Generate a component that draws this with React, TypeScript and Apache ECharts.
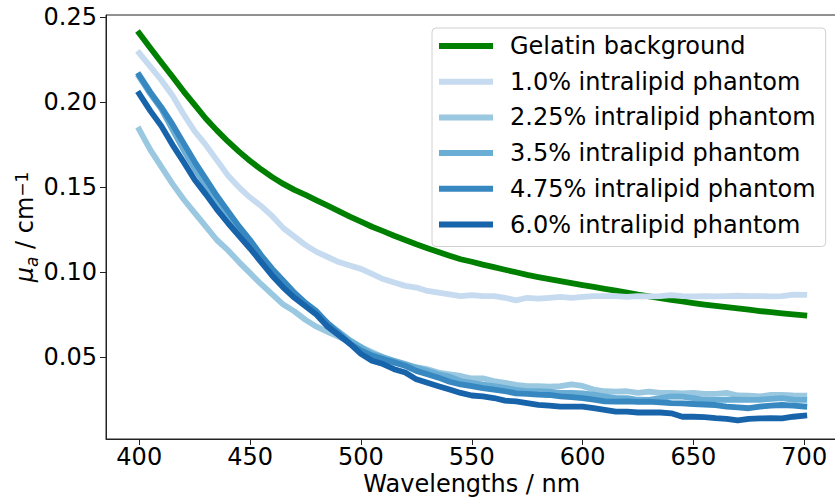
import React, { useEffect, useRef } from "react";
import * as echarts from "echarts";

const wavelengths = [
  400, 405, 410, 415, 420, 425, 430, 435, 440, 445, 450, 455, 460, 465, 470, 475, 480, 485, 490, 495,
  500, 505, 510, 515, 520, 525, 530, 535, 540, 545, 550, 555, 560, 565, 570, 575, 580, 585, 590, 595,
  600, 605, 610, 615, 620, 625, 630, 635, 640, 645, 650, 655, 660, 665, 670, 675, 680, 685, 690, 695, 700,
];

const gelatin = [
  0.2406, 0.232, 0.2235, 0.215, 0.2065, 0.1985, 0.1905, 0.1835, 0.177, 0.171, 0.1655, 0.1605, 0.156, 0.152, 0.1485, 0.1455, 0.1423, 0.1392, 0.136, 0.1328,
  0.1298, 0.1268, 0.1242, 0.1215, 0.119, 0.1165, 0.1142, 0.112, 0.1097, 0.1077, 0.1062, 0.1045, 0.103, 0.1015, 0.1, 0.0985, 0.0972, 0.096, 0.0948, 0.0936,
  0.0925, 0.0914, 0.0903, 0.0892, 0.088, 0.0868, 0.0858, 0.0848, 0.0838, 0.0829, 0.0819, 0.081, 0.0802, 0.0795, 0.0788, 0.078, 0.0772, 0.0765, 0.0758, 0.0752, 0.0746,
];

const lipid1_0 = [
  0.229, 0.221, 0.213, 0.204, 0.193, 0.183, 0.175, 0.166, 0.157, 0.150, 0.144, 0.139, 0.133, 0.126, 0.121, 0.116, 0.112, 0.109, 0.106, 0.104,
  0.102, 0.099, 0.096, 0.094, 0.092, 0.091, 0.089, 0.088, 0.087, 0.086, 0.0865, 0.086, 0.086, 0.085, 0.0835, 0.085, 0.0845, 0.085, 0.0855, 0.085,
  0.0855, 0.086, 0.086, 0.086, 0.0855, 0.086, 0.0858, 0.086, 0.0865, 0.086, 0.0858, 0.086, 0.0858, 0.086, 0.0862, 0.086, 0.086, 0.0858, 0.086, 0.0868, 0.0867,
];

const lipid2_25 = [
  0.184, 0.172, 0.162, 0.152, 0.143, 0.135, 0.127, 0.119, 0.113, 0.106, 0.0995, 0.093, 0.087, 0.081, 0.077, 0.072, 0.068, 0.065, 0.062, 0.059,
  0.056, 0.053, 0.05, 0.047, 0.045, 0.044, 0.043, 0.041, 0.04, 0.039, 0.0375, 0.0376, 0.036, 0.035, 0.0337, 0.033, 0.033, 0.0327, 0.033, 0.034,
  0.0331, 0.031, 0.03, 0.0298, 0.03, 0.029, 0.0298, 0.029, 0.029, 0.0288, 0.029, 0.0285, 0.0284, 0.029, 0.0275, 0.0274, 0.027, 0.0278, 0.0278, 0.0275, 0.0274,
];

const lipid3_5 = [
  0.215, 0.205, 0.196, 0.184, 0.172, 0.161, 0.151, 0.141, 0.1325, 0.124, 0.1165, 0.108, 0.1, 0.093, 0.0865, 0.081, 0.076, 0.07, 0.065, 0.06,
  0.056, 0.052, 0.05, 0.048, 0.046, 0.044, 0.042, 0.04, 0.0386, 0.036, 0.035, 0.0339, 0.033, 0.032, 0.0308, 0.03, 0.03, 0.0298, 0.029, 0.029,
  0.0288, 0.028, 0.027, 0.0259, 0.026, 0.025, 0.0249, 0.026, 0.027, 0.0268, 0.026, 0.025, 0.0249, 0.025, 0.025, 0.0249, 0.025, 0.0255, 0.0259, 0.025, 0.0249,
];

const lipid4_75 = [
  0.216, 0.206, 0.197, 0.187, 0.176, 0.165, 0.155, 0.145, 0.136, 0.127, 0.119, 0.11, 0.102, 0.095, 0.088, 0.082, 0.077, 0.07, 0.064, 0.058,
  0.054, 0.051, 0.049, 0.047, 0.045, 0.042, 0.04, 0.038, 0.0356, 0.034, 0.033, 0.0318, 0.031, 0.03, 0.0288, 0.0285, 0.028, 0.0278, 0.027, 0.0265,
  0.0259, 0.025, 0.024, 0.0239, 0.024, 0.0238, 0.0239, 0.0235, 0.023, 0.0229, 0.0225, 0.0222, 0.0219, 0.021, 0.0205, 0.02, 0.021, 0.0215, 0.0219, 0.0215, 0.021,
];

const lipid6_0 = [
  0.205, 0.195, 0.186, 0.175, 0.165, 0.1545, 0.146, 0.137, 0.129, 0.1215, 0.114, 0.106, 0.098, 0.091, 0.085, 0.08, 0.075, 0.068, 0.063, 0.058,
  0.052, 0.048, 0.046, 0.043, 0.041, 0.037, 0.035, 0.033, 0.031, 0.029, 0.0275, 0.027, 0.026, 0.0245, 0.024, 0.023, 0.022, 0.0215, 0.021, 0.021,
  0.021, 0.02, 0.019, 0.018, 0.018, 0.0175, 0.0175, 0.0175, 0.017, 0.015, 0.015, 0.0148, 0.0142, 0.0138, 0.0128, 0.0138, 0.014, 0.0141, 0.014, 0.015, 0.0156,
];

const seriesNames = [
  "Gelatin background",
  "1.0% intralipid phantom",
  "2.25% intralipid phantom",
  "3.5% intralipid phantom",
  "4.75% intralipid phantom",
  "6.0% intralipid phantom",
];
const seriesValues = [gelatin, lipid1_0, lipid2_25, lipid3_5, lipid4_75, lipid6_0];
const seriesColors = ["#008000", "#c6dbef", "#9ac8e0", "#6aaed6", "#3787c0", "#1764ab"];

const xTicks = [400, 450, 500, 550, 600, 650, 700];
const yTicks = [0.05, 0.1, 0.15, 0.2, 0.25];

const FONT = "DejaVu Sans";

export default function App() {
  const ref = useRef<HTMLDivElement>(null);
  useEffect(() => {
    if (!ref.current) return;
    const chart = echarts.init(ref.current, null, { renderer: "svg" });
    const series = seriesNames.map((name, i) => ({
      name,
      type: "line",
      data: wavelengths.map((w, j) => [w, seriesValues[i][j]]),
      showSymbol: false,
      symbol: "none",
      color: seriesColors[i],
      lineStyle: { width: 5.8, color: seriesColors[i], cap: "square", join: "round" },
      z: 2 + i,
    }));
    chart.setOption({
      animation: false,
      backgroundColor: "#ffffff",
      textStyle: { fontFamily: FONT },
      grid: {
        left: 106,
        top: 15,
        width: 731.5,
        height: 424,
        show: true,
        borderColor: "#222",
        borderWidth: 1,
        backgroundColor: "transparent",
        containLabel: false,
        outerBoundsMode: "none",
      },
      xAxis: {
        type: "value",
        min: 385,
        max: 715,
        name: "Wavelengths / nm",
        nameLocation: "middle",
        nameGap: 33,
        nameMoveOverlap: false,
        nameTextStyle: { fontSize: 24, color: "#000", fontFamily: FONT },
        splitLine: { show: false },
        axisLine: { show: true, onZero: false, lineStyle: { color: "#222", width: 1 } },
        axisTick: { show: true, inside: false, length: 6, lineStyle: { color: "#222", width: 1 }, customValues: xTicks },
        axisLabel: { fontSize: 24, color: "#000", margin: 6, fontFamily: FONT, customValues: xTicks },
      },
      yAxis: {
        type: "value",
        min: 0.0019,
        max: 0.2514,
        name: "{mu|μ}{sub|a}{n| / cm}{sup|−1}",
        nameLocation: "middle",
        nameRotate: 90,
        nameGap: 66,
        nameMoveOverlap: false,
        nameTextStyle: {
          fontFamily: FONT,
          color: "#000",
          rich: {
            mu: { fontSize: 24, fontStyle: "italic", fontFamily: FONT, color: "#000", lineHeight: 30 },
            sub: { fontSize: 17, fontStyle: "italic", fontFamily: FONT, color: "#000", verticalAlign: "bottom", lineHeight: 30 },
            n: { fontSize: 24, fontFamily: FONT, color: "#000", lineHeight: 30 },
            sup: { fontSize: 17, fontFamily: FONT, color: "#000", verticalAlign: "top", lineHeight: 30, padding: [3, 0, 0, 0] },
          },
        },
        splitLine: { show: false },
        axisLine: { show: true, onZero: false, lineStyle: { color: "#222", width: 1 } },
        axisTick: { show: true, inside: false, length: 6, lineStyle: { color: "#222", width: 1 }, customValues: yTicks },
        axisLabel: {
          fontSize: 24,
          color: "#000",
          margin: 9,
          fontFamily: FONT,
          customValues: yTicks,
          formatter: (v: number) => v.toFixed(2),
        },
      },
      legend: {
        show: true,
        left: 432,
        top: 28,
        orient: "vertical",
        data: seriesNames.map((n) => ({ name: n, icon: "rect" })),
        itemWidth: 54,
        itemHeight: 6,
        itemGap: 11.7,
        padding: [6, 10, 10, 7],
        backgroundColor: "rgba(255,255,255,0.8)",
        borderColor: "#d0d0d0",
        borderWidth: 1,
        borderRadius: 4,
        textStyle: { fontSize: 24, color: "#000", fontFamily: FONT, lineHeight: 24, padding: [0, 0, 0, 12] },
        selectedMode: false,
      },
      series,
    });
    return () => chart.dispose();
  }, []);
  return (
    <div
      ref={ref}
      style={{ position: "fixed", left: 0, top: 0, width: 840, height: 502, background: "#fff" }}
    />
  );
}
